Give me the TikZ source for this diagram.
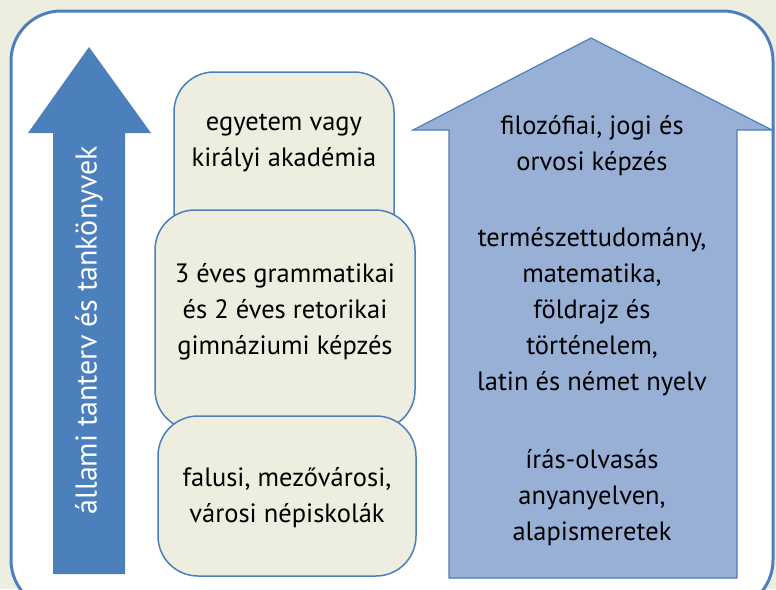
\documentclass[tikz,border=0pt]{standalone}
\usepackage{fontspec}
\setmainfont{PT Sans}
\usetikzlibrary{positioning}
\definecolor{mbeige}{rgb}{0.93, 0.93, 0.88}
\definecolor{mblue}{rgb}{0.30, 0.50, 0.74}
\definecolor{mlight}{rgb}{0.60, 0.69, 0.84}
\tikzset{stage/.style = {draw=mblue, line width=1.5pt, fill=mbeige,
                         rounded corners=40pt, inner sep=0}}
\tikzset{txt/.style = {align=center, font=\fontsize{26.5}{36}\selectfont}}

\begin{document}
\begin{tikzpicture}[x=1pt, y=-1pt]
      \fill [mbeige] (0, 0) rectangle (776, 589);
      \useasboundingbox (0, 0) rectangle (776, 589);
      \draw [mblue, line width=3pt, fill=white, rounded corners=50pt] (11, 11) rectangle (773, 610);

      % left arrow
      \fill [mblue] (53, 574) -- (53, 133) -- (28, 133) -- (89, 47) -- (151, 133)
                    -- (125, 133) -- (125, 574) -- cycle;
      \node [rotate=90, text=white, font=\fontsize{30}{34}\selectfont] (plan) at (89, 330)
            {állami tanterv és tankönyvek};

      % school stages
      \node [stage, minimum width=220pt, minimum height=190pt] (uni) at (284, 167) {};
      \node [txt] (unitext) at (284, 143) {egyetem vagy\\királyi akadémia};
      \node [stage, minimum width=260pt, minimum height=220pt] (gym) at (285, 320) {};
      \node [txt] (gymtext) at (285, 312) {3 éves grammatikai\\és 2 éves retorikai\\gimnáziumi képzés};
      \node [stage, minimum width=258pt, minimum height=160pt] (folk) at (287, 496) {};
      \node [txt] (folktext) at (287, 498) {falusi, mezővárosi,\\városi népiskolák};

      % right arrow
      \draw [mblue, line width=1.2pt, fill=mlight] (449, 578) -- (449, 130) -- (413, 130)
            -- (591, 38) -- (772, 130) -- (737, 130) -- (737, 578) -- cycle;
      \node [txt] (high) at (592, 146) {filozófiai, jogi és\\orvosi képzés};
      \node [txt] (mid) at (592, 312) {természettudomány,\\matematika,\\földrajz és\\történelem,\\latin és német nyelv};
      \node [txt] (low) at (592, 498) {írás-olvasás\\anyanyelven,\\alapismeretek};
    \end{tikzpicture}
\end{document}
